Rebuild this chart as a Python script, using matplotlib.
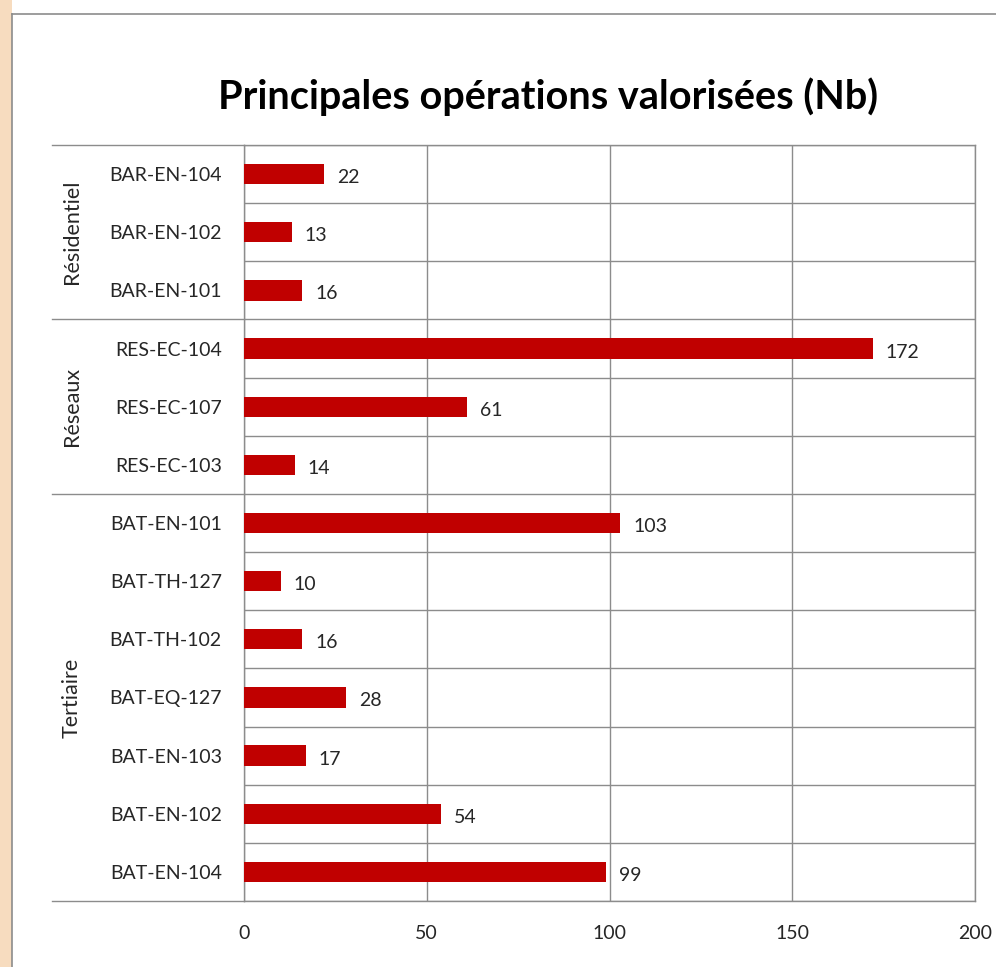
import matplotlib
matplotlib.use("Agg")
import matplotlib.pyplot as plt
from matplotlib.patches import Rectangle
import numpy as np

# Data, top to bottom as drawn
operations = ["BAR-EN-104", "BAR-EN-102", "BAR-EN-101",
              "RES-EC-104", "RES-EC-107", "RES-EC-103",
              "BAT-EN-101", "BAT-TH-127", "BAT-TH-102", "BAT-EQ-127",
              "BAT-EN-103", "BAT-EN-102", "BAT-EN-104"]
counts = [22, 13, 16, 172, 61, 14, 103, 10, 16, 28, 17, 54, 99]
groups = ["Résidentiel", "Réseaux", "Tertiaire"]
group_sizes = [3, 3, 7]
x_ticks = [0, 50, 100, 150, 200]

plt.rcParams['font.family'] = ['Lato', 'DejaVu Sans']

W, H = 996, 967
fig = plt.figure(figsize=(W / 100, H / 100), dpi=100)

# orange strip on the left, then the chart frame
fig.patches.append(Rectangle((0, 0), 12 / W, 1, transform=fig.transFigure,
                             facecolor="#f7dcbf", edgecolor="none"))
fig.lines.append(plt.Line2D([12 / W, 12 / W], [0, 1 - 14 / H], transform=fig.transFigure,
                            color="#8c8c8c", lw=1.2))
fig.lines.append(plt.Line2D([12 / W, 1], [1 - 14 / H, 1 - 14 / H], transform=fig.transFigure,
                            color="#8c8c8c", lw=1.2))

left, right, top, bottom = 244, 975, 145, 901
ax = fig.add_axes([left / W, 1 - bottom / H, (right - left) / W, (bottom - top) / H])

fs = 14
y = np.arange(len(operations))
ax.barh(y, counts, height=0.35, color="#c00000", zorder=3)
for yi, v in zip(y, counts):
    ax.text(v + 3.5, yi + 0.06, str(v), va="center", ha="left", fontsize=fs, color="#262626")

ax.set_xlim(0, 200)
ax.set_ylim(len(operations) - 0.5, -0.5)
ax.set_xticks(x_ticks)
ax.set_xticklabels([str(t) for t in x_ticks], fontsize=fs, color="#262626")
ax.set_yticks(y)
ax.set_yticklabels(operations, fontsize=fs, color="#262626")
ax.tick_params(axis="x", length=0, pad=17)
ax.tick_params(axis="y", length=0, pad=16)
ax.set_yticks(np.arange(len(operations) + 1) - 0.5, minor=True)
ax.tick_params(axis="y", which="minor", length=0)
ax.grid(axis="x", color="#8c8c8c", lw=1)
ax.grid(axis="y", which="minor", color="#8c8c8c", lw=1)
for s in ax.spines.values():
    s.set_color("#8c8c8c")
    s.set_linewidth(1)

# group separators and labels to the left of the axis
x_sep = (52 - left) / (right - left)
bounds = np.concatenate([[0], np.cumsum(group_sizes)]) - 0.5
for b in bounds:
    ax.plot([x_sep, 0], [b, b], transform=ax.get_yaxis_transform(),
            color="#8c8c8c", lw=1, clip_on=False)
x_lab = (72 - left) / (right - left)
for name, b0, b1 in zip(groups, bounds[:-1], bounds[1:]):
    ax.text(x_lab, (b0 + b1) / 2, name, rotation=90, ha="center", va="center",
            fontsize=15.5, color="#262626", transform=ax.get_yaxis_transform())

fig.text(548 / W, 1 - 97 / H, "Principales opérations valorisées (Nb)",
         ha="center", va="center", fontsize=28.5, fontweight="bold", color="#000000")

fig.savefig("out.png", dpi=100)
